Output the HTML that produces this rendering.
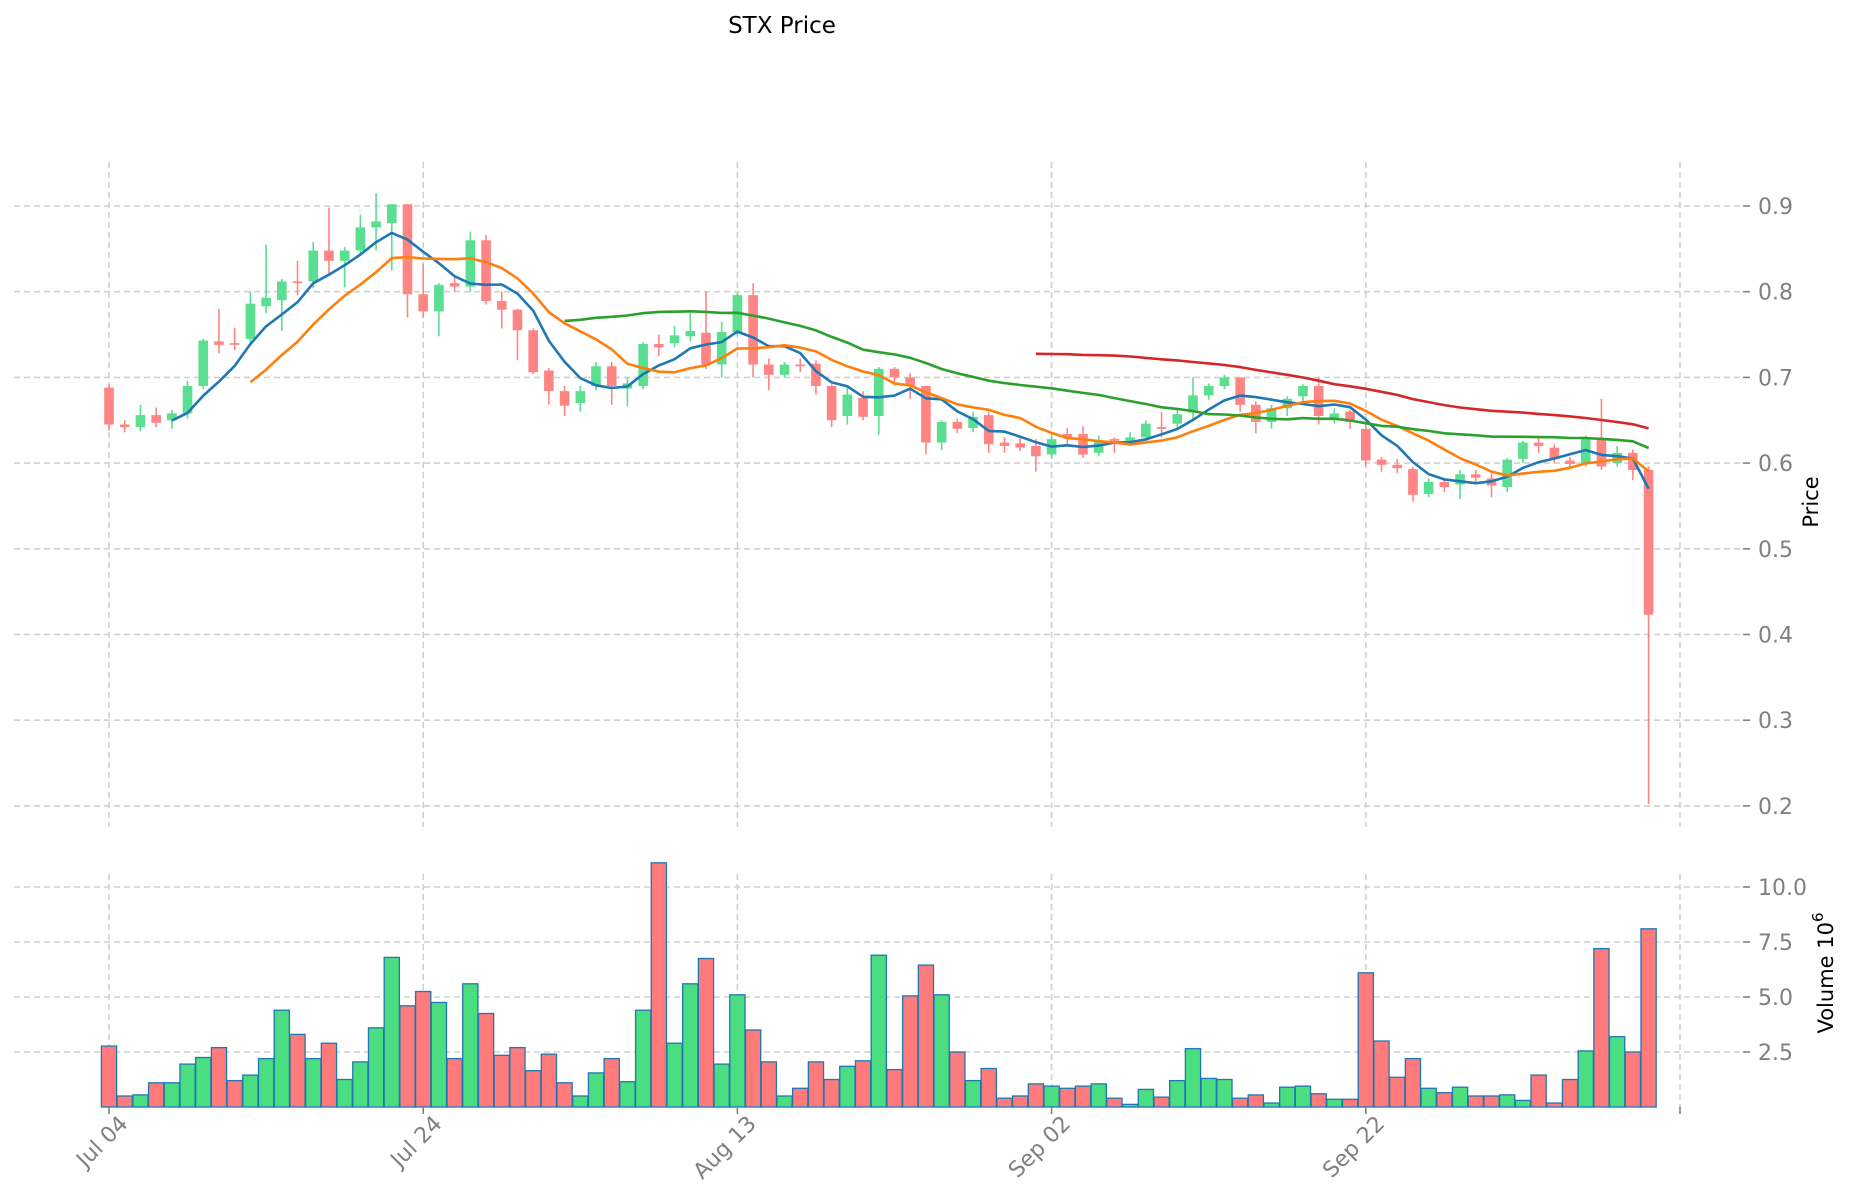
<!DOCTYPE html>
<html><head><meta charset="utf-8"><style>
body{margin:0;background:#fff}
svg{display:block;font-family:"DejaVu Sans","Liberation Sans",sans-serif}
</style></head><body>
<svg id="c" width="1852" height="1202" viewBox="0 0 1852 1202">
<text x="782" y="33" font-size="23" text-anchor="middle" fill="#000">STX Price</text>
<text transform="translate(1818,502) rotate(-90)" font-size="21" text-anchor="middle" fill="#000">Price</text>
<text transform="translate(1833,973) rotate(-90)" font-size="21" text-anchor="middle" fill="#000">Volume  10<tspan dy="-10" font-size="15">6</tspan></text>
<g id="grid"></g><g id="vol"></g><g id="cand"></g><g id="ma"></g><g id="axes"></g>
</svg>
<script>
const dateTickIdx=[0,20,40,60,80,100];
const dateTickLabels=["Jul 04","Jul 24","Aug 13","Sep 02","Sep 22",""];
const priceTicks=[0.2,0.3,0.4,0.5,0.6,0.7,0.8,0.9];
const volTicks=[2.5,5.0,7.5,10.0];
const open=[0.688,0.645,0.642,0.656,0.650,0.658,0.690,0.742,0.740,0.745,0.783,0.790,0.812,0.812,0.848,0.836,0.848,0.875,0.880,0.902,0.797,0.777,0.810,0.806,0.860,0.789,0.779,0.755,0.708,0.684,0.670,0.690,0.713,0.687,0.690,0.739,0.740,0.748,0.752,0.715,0.753,0.796,0.715,0.703,0.715,0.716,0.690,0.655,0.676,0.655,0.710,0.700,0.690,0.624,0.648,0.641,0.656,0.624,0.623,0.620,0.610,0.634,0.634,0.612,0.628,0.625,0.630,0.642,0.646,0.659,0.679,0.690,0.700,0.668,0.648,0.664,0.678,0.690,0.653,0.660,0.640,0.604,0.598,0.593,0.564,0.578,0.575,0.587,0.582,0.572,0.605,0.624,0.618,0.603,0.600,0.628,0.600,0.612,0.592];
const close=[0.645,0.642,0.656,0.647,0.658,0.690,0.743,0.738,0.738,0.786,0.793,0.812,0.810,0.848,0.836,0.848,0.875,0.882,0.902,0.797,0.777,0.808,0.806,0.860,0.789,0.779,0.755,0.706,0.684,0.667,0.684,0.713,0.690,0.693,0.739,0.735,0.749,0.754,0.715,0.753,0.796,0.715,0.703,0.715,0.713,0.690,0.650,0.680,0.654,0.710,0.700,0.690,0.624,0.648,0.640,0.654,0.622,0.620,0.618,0.608,0.628,0.630,0.610,0.626,0.626,0.630,0.646,0.640,0.657,0.679,0.690,0.700,0.668,0.648,0.664,0.675,0.690,0.655,0.658,0.648,0.603,0.598,0.594,0.563,0.578,0.572,0.587,0.583,0.574,0.604,0.624,0.620,0.605,0.599,0.628,0.596,0.612,0.592,0.423];
const high=[0.692,0.650,0.668,0.665,0.662,0.696,0.745,0.780,0.758,0.800,0.855,0.815,0.836,0.858,0.898,0.852,0.890,0.915,0.902,0.902,0.832,0.810,0.816,0.870,0.866,0.800,0.780,0.757,0.711,0.690,0.690,0.718,0.718,0.700,0.741,0.750,0.760,0.775,0.800,0.765,0.799,0.810,0.722,0.718,0.722,0.720,0.692,0.690,0.684,0.712,0.712,0.705,0.690,0.650,0.652,0.660,0.660,0.630,0.630,0.628,0.633,0.641,0.643,0.632,0.630,0.636,0.650,0.660,0.662,0.700,0.693,0.703,0.700,0.672,0.668,0.678,0.692,0.700,0.664,0.662,0.645,0.607,0.605,0.596,0.582,0.582,0.592,0.592,0.588,0.606,0.626,0.632,0.622,0.607,0.632,0.675,0.620,0.616,0.596];
const low=[0.638,0.636,0.637,0.642,0.640,0.652,0.686,0.728,0.732,0.740,0.775,0.754,0.796,0.804,0.818,0.805,0.842,0.848,0.825,0.770,0.770,0.748,0.800,0.800,0.785,0.757,0.720,0.704,0.668,0.655,0.660,0.685,0.668,0.666,0.686,0.725,0.735,0.742,0.710,0.700,0.748,0.700,0.685,0.700,0.706,0.680,0.642,0.645,0.650,0.633,0.690,0.675,0.610,0.615,0.635,0.636,0.612,0.612,0.614,0.590,0.605,0.620,0.606,0.608,0.612,0.620,0.626,0.630,0.640,0.652,0.674,0.686,0.660,0.635,0.640,0.655,0.672,0.645,0.646,0.640,0.596,0.590,0.588,0.555,0.560,0.566,0.558,0.576,0.560,0.566,0.600,0.612,0.600,0.594,0.596,0.592,0.596,0.580,0.202];
const volume=[2.77,0.5,0.55,1.1,1.1,1.95,2.25,2.7,1.2,1.45,2.2,4.4,3.3,2.2,2.9,1.25,2.05,3.6,6.8,4.6,5.25,4.75,2.2,5.6,4.25,2.35,2.7,1.65,2.4,1.1,0.5,1.55,2.2,1.15,4.4,11.1,2.9,5.6,6.75,1.95,5.1,3.5,2.05,0.5,0.85,2.05,1.25,1.85,2.1,6.9,1.7,5.05,6.45,5.1,2.5,1.2,1.75,0.4,0.5,1.05,0.95,0.85,0.95,1.05,0.4,0.12,0.8,0.45,1.2,2.65,1.3,1.25,0.4,0.55,0.18,0.9,0.95,0.6,0.35,0.35,6.1,3.0,1.35,2.2,0.85,0.65,0.9,0.5,0.5,0.55,0.3,1.45,0.18,1.25,2.55,7.2,3.2,2.5,8.1];
const maPeriods=[5,10,30,60];
const maColors=["#1f77b4","#ff7f0e","#2ca02c","#d62728"];

const NS="http://www.w3.org/2000/svg";
const X0=109,DX=15.71,L=14,R=1743,PT=162,PB=827,VT=874,VB=1107;
const x=i=>X0+DX*i;
const yP=p=>206+(0.9-p)*857;
const yV=v=>VB-v*22;
function mk(parent,tag,attrs){const e=document.createElementNS(NS,tag);for(const k in attrs)e.setAttribute(k,attrs[k]);document.getElementById(parent).appendChild(e);return e;}

priceTicks.forEach(t=>{
  const g=mk('grid','line',{x1:L,x2:R,y1:yP(t),y2:yP(t),stroke:'#d0d0d0','stroke-width':1.6,'stroke-dasharray':'6,4'});
  
  
  const tk=mk('axes','line',{x1:R,x2:R+7,y1:yP(t),y2:yP(t),stroke:'#808080','stroke-width':1.6});
  
  
  const tx=mk('axes','text',{x:1758,y:yP(t)+8,'font-size':22,fill:'#808080'});
  tx.textContent=t.toFixed(1);
  
  
});
volTicks.forEach(t=>{
  const g=mk('grid','line',{x1:L,x2:R,y1:yV(t),y2:yV(t),stroke:'#d0d0d0','stroke-width':1.6,'stroke-dasharray':'6,4'});
  
  
  const tk=mk('axes','line',{x1:R,x2:R+7,y1:yV(t),y2:yV(t),stroke:'#808080','stroke-width':1.6});
  
  
  const tx=mk('axes','text',{x:1758,y:yV(t)+8,'font-size':22,fill:'#808080'});
  tx.textContent=t.toFixed(1);
  
  
});
dateTickIdx.forEach((d,k)=>{
  const xx=x(d);
  const g1=mk('grid','line',{x1:xx,x2:xx,y1:PT,y2:PB,stroke:'#d0d0d0','stroke-width':1.6,'stroke-dasharray':'6,4'});
  
  
  const g2=mk('grid','line',{x1:xx,x2:xx,y1:VT,y2:VB,stroke:'#d0d0d0','stroke-width':1.6,'stroke-dasharray':'6,4'});
  
  
  const tk=mk('axes','line',{x1:xx,x2:xx,y1:VB,y2:VB+7,stroke:'#808080','stroke-width':1.6});
  
  
  if(dateTickLabels[k]){
    const tx=mk('axes','text',{transform:`translate(${xx+20},${VB+18}) rotate(-45)`,'font-size':22,fill:'#808080','text-anchor':'end'});
    tx.textContent=dateTickLabels[k];
    
    
  }
});
volume.forEach((v,i)=>{
  const up=close[i]>=open[i];
  const b=mk('vol','rect',{x:x(i)-7.6,y:yV(v),width:15.2,height:VB-yV(v),fill:up?'#4ade80':'#ff7a7a',stroke:'#1f77b4','stroke-width':1.3});
  
  
});
open.forEach((o,i)=>{
  const c=close[i],up=c>=o,col=up?'#5ade8f':'#ff8585';
  const w=mk('cand','line',{x1:x(i),x2:x(i),y1:yP(high[i]),y2:yP(low[i]),stroke:col,'stroke-width':1.6});
  
  
  const t=yP(Math.max(o,c)),h=Math.max(1.5,Math.abs(yP(o)-yP(c)));
  const b=mk('cand','rect',{x:x(i)-4.8,y:t,width:9.6,height:h,fill:col});
  
  
});
maPeriods.forEach((p,k)=>{
  const pts=[];
  for(let i=p-1;i<close.length;i++){let s=0;for(let j=i-p+1;j<=i;j++)s+=close[j];pts.push(x(i).toFixed(1)+','+yP(s/p).toFixed(1));}
  const l=mk('ma','polyline',{points:pts.join(' '),fill:'none',stroke:maColors[k],'stroke-width':2.6,'stroke-linejoin':'round'});
  
  
});
</script>
</body></html>
